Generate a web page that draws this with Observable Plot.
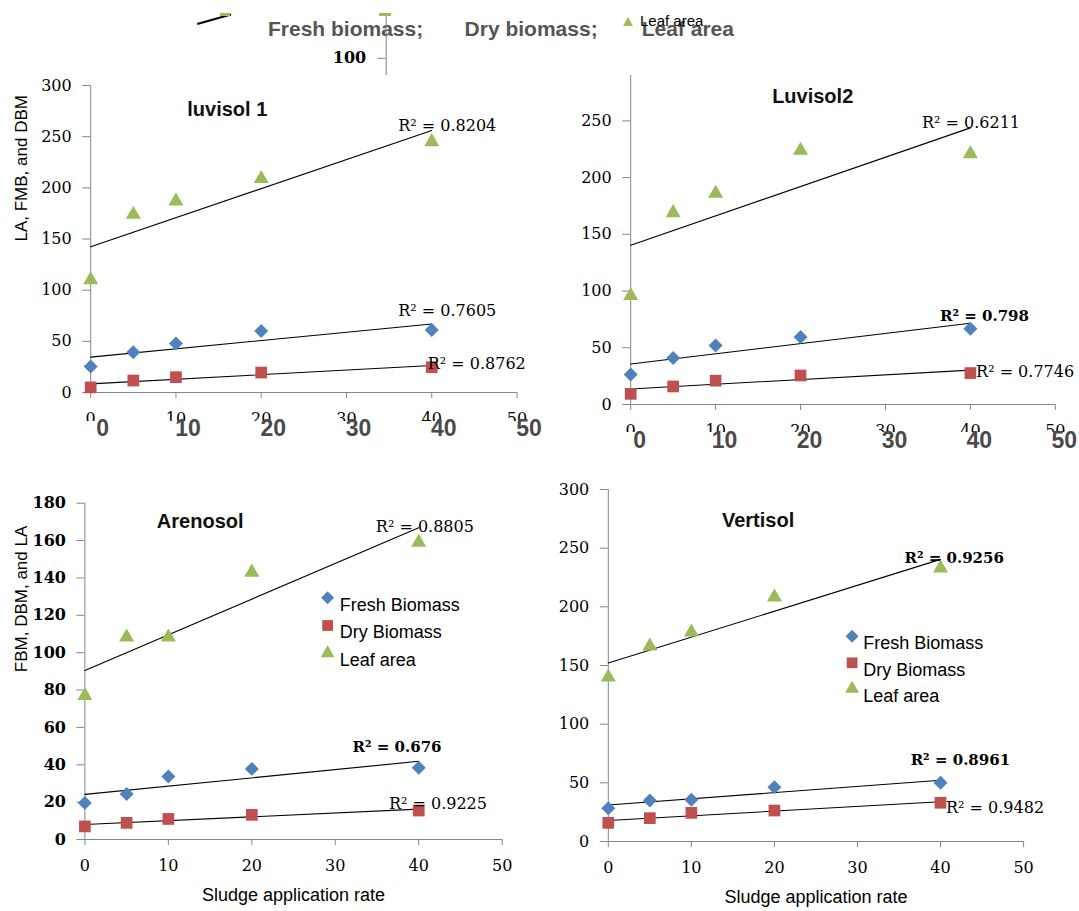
<!DOCTYPE html>
<html><head><meta charset="utf-8">
<script src="https://cdn.jsdelivr.net/npm/d3@7"></script>
<script src="https://cdn.jsdelivr.net/npm/@observablehq/plot@0.6"></script>
<style>
html,body{margin:0;padding:0;background:#fff;}
#root{position:relative;width:1079px;height:911px;overflow:hidden;background:#fff;}
#root > .pl{position:absolute;}
.hdr{position:absolute;font-family:"Liberation Sans",Arial,sans-serif;white-space:nowrap;line-height:1;}
</style></head><body><div id="root"></div>
<script>
// ---------------- DATA ----------------
const rates = [0, 5, 10, 20, 40];               // sludge application rate
const xTicks = [0, 10, 20, 30, 40, 50];
const seriesNames = ["Fresh Biomass", "Dry Biomass", "Leaf area"];
const headerNames = ["Fresh biomass;", "Dry biomass;", "Leaf area"];
const panelTitles = ["luvisol 1", "Luvisol2", "Arenosol", "Vertisol"];
const xLabel = "Sludge application rate";
const yLabels = ["LA, FMB, and DBM", "FBM, DBM, and LA"];

// Luvisol 1
const luv1FB = [25.4, 39.4, 48, 60, 61];
const luv1DB = [5, 11.7, 15, 19.5, 24.7];
const luv1LA = [110, 174, 187, 209, 245];
const luv1R2 = ["0.7605", "0.8762", "0.8204"];
const luv1YTicks = [0, 50, 100, 150, 200, 250, 300];

// Luvisol 2
const luv2FB = [26.5, 41, 52, 59.4, 66.8];
const luv2DB = [9.4, 15.9, 21, 25.6, 27.7];
const luv2LA = [96, 169, 186, 224, 221];
const luv2R2 = ["0.798", "0.7746", "0.6211"];
const luv2YTicks = [0, 50, 100, 150, 200, 250];

// Arenosol
const areFB = [19.6, 24.4, 33.7, 37.8, 38.4];
const areDB = [7, 8.9, 11, 13.2, 15.5];
const areLA = [77, 108.3, 108.3, 143, 159];
const areR2 = ["0.676", "0.9225", "0.8805"];
const areYTicks = [0, 20, 40, 60, 80, 100, 120, 140, 160, 180];

// Vertisol
const verFB = [28.4, 35, 35.5, 46.3, 50];
const verDB = [15.9, 19.9, 24.4, 26.4, 33];
const verLA = [140, 166.5, 178.4, 208.2, 233];
const verR2 = ["0.8961", "0.9482", "0.9256"];
const verYTicks = [0, 50, 100, 150, 200, 250, 300];

const headerTick = [100];

// ---------------- STYLE ----------------
const AX = "#868686";
const SERIF = "'DejaVu Serif', serif";
const SANS = "'Liberation Sans', Arial, sans-serif";
const COLORS = ["#4F81BD", "#C0504D", "#9BBB59"];
const SYMBOLS = ["diamond2", "square", "triangle"];
const RADII = [6.3, 6.6, 5.6];

function fitAt(xs, ys, x0) {
  const mx = d3.mean(xs), my = d3.mean(ys);
  const sxy = d3.sum(xs, (x, i) => (x - mx) * (ys[i] - my));
  const sxx = d3.sum(xs, x => (x - mx) ** 2);
  return my + (sxy / sxx) * (x0 - mx);
}

const root = document.getElementById("root");
function place(el, left, top) {
  el.classList.add("pl");
  el.style.left = left + "px";
  el.style.top = top + "px";
  root.appendChild(el);
}

function makePanel(p) {
  const vals = [p.fb, p.db, p.la];
  const marks = [];
  marks.push(Plot.ruleY([0], {stroke: AX, strokeWidth: 1}));
  marks.push(Plot.ruleX([0], {stroke: AX, strokeWidth: 1}));
  marks.push(Plot.axisX({ticks: xTicks, tickFormat: d => String(d), tickSize: 6, tickPadding: 14,
    stroke: AX, fill: "#000", fontSize: 16, label: null}));
  marks.push(Plot.axisY({ticks: p.yTicks, tickFormat: d => String(d), tickSize: 8, tickPadding: 11,
    stroke: AX, fill: "#000", fontSize: 16, fontWeight: p.yBold ? "bold" : "normal", label: null}));
  vals.forEach((v, i) => {
    const rows = rates.map((r, j) => ({rate: r, val: v[j]}));
    marks.push(Plot.linearRegressionY(rows, {x: "rate", y: "val", ci: 0, stroke: "#000", strokeWidth: 1.1}));
  });
  vals.forEach((v, i) => {
    const rows = rates.map((r, j) => ({rate: r, val: v[j]}));
    marks.push(Plot.dot(rows, {x: "rate", y: "val", symbol: SYMBOLS[i], fill: COLORS[i], r: RADII[i], stroke: "none"}));
  });
  vals.forEach((v, i) => {
    const end = [{rate: 40, val: fitAt(rates, v, 40), txt: "R\u00B2 = " + p.r2[i]}];
    const o = p.r2Pos[i];
    marks.push(Plot.text(end, {x: "rate", y: "val", text: "txt", textAnchor: "start", dx: o[0], dy: o[1],
      fontSize: o[2] ? 15 : 16, fontFamily: SERIF, fill: "#000", fontWeight: o[2] ? "bold" : "normal"}));
  });
  marks.push(Plot.text([p.title], {frameAnchor: "top-left", dx: p.titlePos[0], dy: p.titlePos[1], text: d => d,
    textAnchor: "middle", fontSize: 20, fontWeight: "bold", fontFamily: SANS, fill: "#111"}));
  if (p.yLabel) {
    marks.push(Plot.text([p.yLabel], {frameAnchor: "left", rotate: -90, dx: p.yLabelPos[0], dy: p.yLabelPos[1],
      text: d => d, fontSize: 17, fontFamily: SANS, fill: "#000"}));
  }
  if (p.xLabel) {
    marks.push(Plot.text([p.xLabel], {frameAnchor: "bottom", dy: p.xLabelDy, text: d => d,
      fontSize: 18, fontFamily: SANS, fill: "#000"}));
  }
  if (p.legend) {
    seriesNames.forEach((name, i) => {
      marks.push(Plot.dot([name], {frameAnchor: "top-left", dx: p.legend.mx, dy: p.legend.dy[i],
        symbol: SYMBOLS[i], fill: COLORS[i], r: RADII[i] * 0.92, stroke: "none"}));
      marks.push(Plot.text([name], {frameAnchor: "top-left", dx: p.legend.tx, dy: p.legend.dy[i], text: d => d,
        textAnchor: "start", fontSize: 18, fontFamily: SANS, fill: "#000"}));
    });
  }
  const svg = Plot.plot({
    width: p.width, height: p.height,
    marginLeft: p.m[0], marginRight: p.m[1], marginTop: p.m[2], marginBottom: p.m[3],
    x: {domain: [0, 50]},
    y: {domain: [0, p.ymax]},
    style: {fontFamily: SERIF, fontSize: "16px", color: "#000", background: "transparent", overflow: "visible"},
    marks
  });
  place(svg, p.left, p.top);

  if (p.big) {
    const ov = Plot.plot({
      width: p.width, height: p.big.height,
      marginLeft: p.m[0], marginRight: p.m[1], marginTop: 0, marginBottom: 0,
      x: {domain: [0, 50], axis: null},
      style: {background: "#fff", overflow: "visible"},
      marks: [Plot.text(xTicks, {x: d => d, text: d => String(d), dx: p.big.dx, dy: p.big.dy,
        fontSize: 23, fontWeight: "bold", fontFamily: SANS, fill: "#4a4a4a"})]
    });
    place(ov, p.left, p.big.top);
  }
}

makePanel({fb: luv1FB, db: luv1DB, la: luv1LA, r2: luv1R2, yTicks: luv1YTicks, ymax: 300,
  title: panelTitles[0], left: 0, top: 60, width: 540, height: 380, m: [90.2, 23.5, 25, 48],
  titlePos: [136.6, 16.7], r2Pos: [[-33.5, -13.4], [-4, -1.7], [-33.5, -4.5]],
  yLabel: yLabels[0], yLabelPos: [-69.5, 2.5],
  big: {top: 421, height: 24, dx: 12, dy: -4.5}});

makePanel({fb: luv2FB, db: luv2DB, la: luv2LA, r2: luv2R2, yTicks: luv2YTicks, ymax: 290,
  title: panelTitles[1], left: 540, top: 60, width: 539, height: 390, m: [90.2, 24.2, 15, 46],
  titlePos: [182, 13], r2Pos: [[-30.4, -7, true], [5.7, 2], [-48.4, -5]],
  big: {top: 432, height: 20, dx: 9, dy: -2}});

makePanel({fb: areFB, db: areDB, la: areLA, r2: areR2, yTicks: areYTicks, ymax: 180, yBold: true,
  title: panelTitles[2], left: 0, top: 470, width: 540, height: 441, m: [84.4, 38.3, 32.7, 72],
  titlePos: [115.3, 10.3], r2Pos: [[-66.2, -14.6, true], [-29.8, -5.7], [-42.9, -1]],
  yLabel: yLabels[1], yLabelPos: [-63.7, 0.8], xLabel: xLabel, xLabelDy: 61,
  legend: {mx: 242.7, tx: 254.8, dy: [94.6, 122.3, 150]}});

makePanel({fb: verFB, db: verDB, la: verLA, r2: verR2, yTicks: verYTicks, ymax: 300,
  title: panelTitles[3], left: 540, top: 470, width: 539, height: 441, m: [67.8, 55.9, 19, 70],
  titlePos: [149.8, 23], r2Pos: [[-29.9, -19.7, true], [5.5, 5.7], [-36.1, -0.7, true]],
  xLabel: xLabel, xLabelDy: 61,
  legend: {mx: 243.8, tx: 254.9, dy: [146.7, 173.3, 199.3]}});

// ---------------- header fragment ----------------
function hdrText(txt, left, top, css) {
  const s = document.createElement("span");
  s.className = "hdr";
  s.textContent = txt;
  s.style.left = left + "px"; s.style.top = top + "px";
  Object.assign(s.style, css);
  root.appendChild(s);
}
const hdrCss = {fontSize: "21px", fontWeight: "bold", color: "#555"};
hdrText(headerNames[0], 268, 17.7, hdrCss);
hdrText(headerNames[1], 464.6, 17.7, hdrCss);
hdrText(headerNames[2], 641.7, 18, hdrCss);
hdrText(headerNames[2], 640, 12.6, {fontSize: "15px", color: "#000", fontFamily: "'Liberation Sans Narrow','Liberation Sans',sans-serif"});
// triangle swatch
const tri = document.createElement("div");
Object.assign(tri.style, {position: "absolute", left: "623.3px", top: "17.3px", width: "0", height: "0",
  borderLeft: "5.5px solid transparent", borderRight: "5.5px solid transparent", borderBottom: "9.5px solid #9BBB59"});
root.appendChild(tri);
// small stray y-axis with tick 100
const hAxis = Plot.plot({
  width: 60, height: 70, marginLeft: 55.7, marginRight: 4.3, marginTop: 5, marginBottom: 5,
  x: {domain: [0, 1], axis: null}, y: {domain: [60, 200]},
  style: {fontFamily: SERIF, fontSize: "16px", color: "#000", background: "transparent", overflow: "visible"},
  marks: [
    Plot.ruleX([0], {stroke: AX}),
    Plot.axisY({ticks: headerTick, tickSize: 8, tickPadding: 12, stroke: AX, fill: "#000", fontWeight: "bold", fontSize: 16, label: null})
  ]
});
place(hAxis, 330, 10);
const cap = document.createElement("div");
Object.assign(cap.style, {position: "absolute", left: "379.3px", top: "12.7px", width: "11.4px", height: "3px", background: "#9BBB59"});
root.appendChild(cap);
const sl = document.createElement("div");
Object.assign(sl.style, {position: "absolute", left: "196.7px", top: "23.3px", width: "34.6px", height: "1.5px",
  background: "#000", transformOrigin: "0 0", transform: "rotate(-15.6deg)"});
root.appendChild(sl);
const slc = document.createElement("div");
Object.assign(slc.style, {position: "absolute", left: "220px", top: "13px", width: "10px", height: "3px", background: "#9BBB59"});
root.appendChild(slc);
</script>
</body></html>
